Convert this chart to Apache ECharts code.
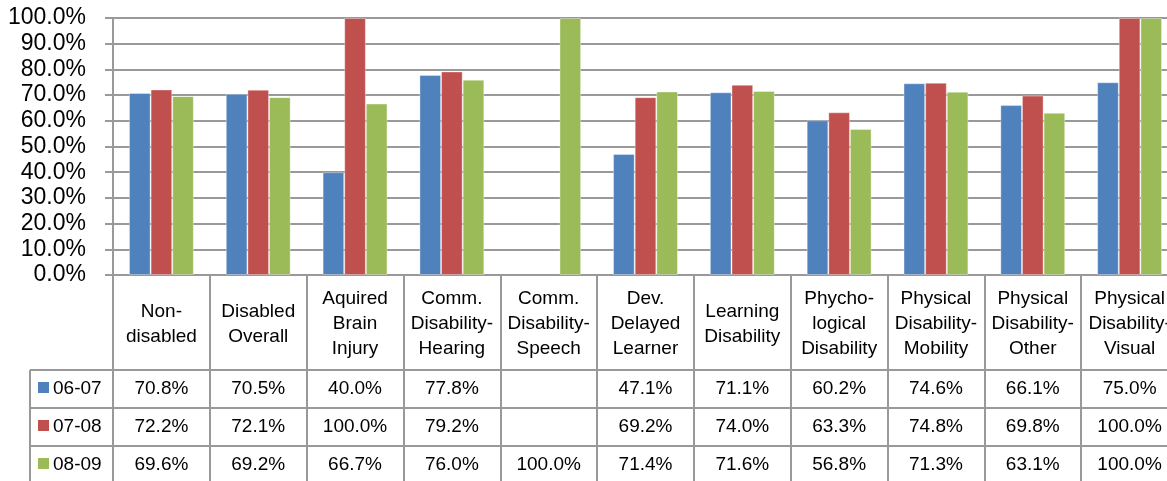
<!DOCTYPE html>
<html lang="en">
<head>
    <meta charset="UTF-8">
    <title>disabilityRates</title>
    <style>
        html, body {margin: 0; padding: 0; background: #fff;}
        #main {width: 1167px; height: 481px;}
    </style>
</head>
<body>
<div id="main"></div>
<script src="https://cdn.jsdelivr.net/npm/echarts@6/dist/echarts.min.js"></script>
<script type="text/javascript">
    var categories = ['Non-\ndisabled', 'Disabled\nOverall', 'Aquired\nBrain\nInjury', 'Comm.\nDisability-\nHearing',
        'Comm.\nDisability-\nSpeech', 'Dev.\nDelayed\nLearner', 'Learning\nDisability', 'Phycho-\nlogical\nDisability',
        'Physical\nDisability-\nMobility', 'Physical\nDisability-\nOther', 'Physical\nDisability-\nVisual'];
    var seriesNames = ['06-07', '07-08', '08-09'];
    var s0607 = [70.8, 70.5, 40.0, 77.8, null, 47.1, 71.1, 60.2, 74.6, 66.1, 75.0];
    var s0708 = [72.2, 72.1, 100.0, 79.2, null, 69.2, 74.0, 63.3, 74.8, 69.8, 100.0];
    var s0809 = [69.6, 69.2, 66.7, 76.0, 100.0, 71.4, 71.6, 56.8, 71.3, 63.1, 100.0];
    var colors = ['#4f81bd', '#c0504d', '#9bbb59'];

    var seriesData = [s0607, s0708, s0809];
    var lineColor = '#999';
    var font = '"Liberation Sans", Arial, sans-serif';

    // grid layout (the right end runs off the canvas like the original)
    var gLeft = 113, gTop = 18, gH = 257, gW = 1065;
    var axisY = gTop + gH;          // 275
    var rowTops = [370, 408, 446];  // table rows
    var rowH = 38;

    function fmt(v) {
        return v == null ? '' : v.toFixed(1) + '%';
    }

    var xAxes = [{
        type: 'category',
        gridIndex: 0,
        position: 'bottom',
        data: categories,
        axisLine: {show: true, lineStyle: {color: lineColor, width: 2}},
        axisTick: {show: true, length: 210, lineStyle: {color: lineColor, width: 2}},
        axisLabel: {
            interval: 0, color: '#000', fontSize: 19, fontFamily: font,
            lineHeight: 25, verticalAlign: 'middle', margin: 49
        }
    }];
    seriesData.forEach(function (arr, k) {
        xAxes.push({
            type: 'category',
            gridIndex: 0,
            position: 'bottom',
            offset: rowTops[k] - axisY,
            data: categories,
            axisLine: {show: true, lineStyle: {color: lineColor, width: 2}},
            axisTick: {show: false},
            axisLabel: {
                interval: 0, color: '#000', fontSize: 19, fontFamily: font,
                verticalAlign: 'middle', margin: rowH / 2,
                formatter: function (v, i) { return fmt(arr[i]); }
            }
        });
    });

    // row headers of the data table (legend keys)
    var graphics = [{
        type: 'line', shape: {x1: 30, y1: rowTops[0], x2: 30, y2: 481},
        style: {stroke: lineColor, lineWidth: 2}
    }];
    seriesNames.forEach(function (name, k) {
        var y = rowTops[k];
        graphics.push({
            type: 'line', shape: {x1: 30, y1: y, x2: gLeft, y2: y},
            style: {stroke: lineColor, lineWidth: 2}
        });
        graphics.push({
            type: 'rect', shape: {x: 38, y: y + 12, width: 11, height: 11},
            style: {fill: colors[k]}
        });
        graphics.push({
            type: 'text', x: 53, y: y + rowH / 2,
            style: {text: name, fill: '#000', font: '19px ' + font, verticalAlign: 'middle'}
        });
    });

    var myChart = echarts.init(document.getElementById('main'));
    myChart.setOption({
        animation: false,
        color: colors,
        grid: {left: gLeft, top: gTop, width: gW, height: gH, outerBoundsMode: 'none'},
        xAxis: xAxes,
        yAxis: {
            type: 'value',
            min: 0, max: 100, interval: 10,
            axisLine: {show: true, lineStyle: {color: lineColor, width: 2}},
            axisTick: {show: true, length: 8, lineStyle: {color: lineColor, width: 2}},
            splitLine: {lineStyle: {color: lineColor, width: 2}},
            axisLabel: {
                color: '#000', fontSize: 23, fontFamily: font, margin: 27,
                formatter: function (v) { return v.toFixed(1) + '%'; }
            }
        },
        graphic: graphics,
        series: seriesData.map(function (arr, k) {
            return {
                name: seriesNames[k],
                type: 'bar',
                xAxisIndex: 0,
                data: arr,
                barGap: '0%',
                barCategoryGap: '33%',
                itemStyle: {borderColor: 'rgba(255,255,255,0.35)', borderWidth: 1}
            };
        })
    });
</script>
</body>
</html>
